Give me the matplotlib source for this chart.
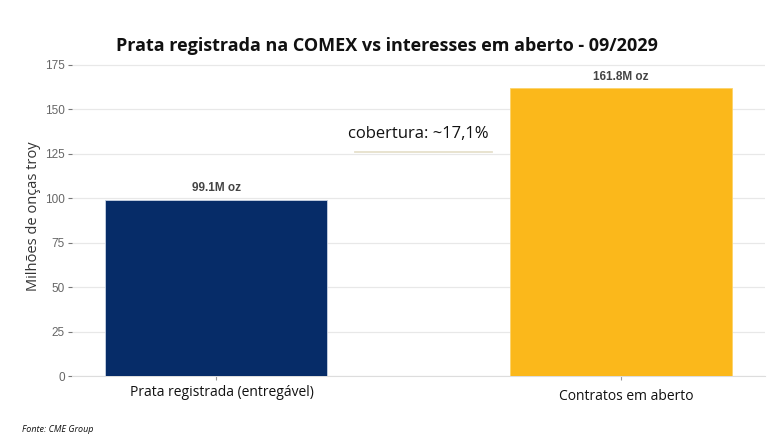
import matplotlib.pyplot as plt
import matplotlib.transforms as mtransforms
import numpy as np

# dados
categorias = ['Prata registrada (entregável)', 'Contratos em aberto']
valores = [99.1, 161.8]
rotulos = ['99.1M oz', '161.8M oz']
cores = ['#062C68', '#FBB81B']
cobertura = 'cobertura: ~17,1%'
yticks = [0, 25, 50, 75, 100, 125, 150, 175]

fig = plt.figure(figsize=(7.74, 4.43), dpi=100)
ax = fig.add_axes([0.093, 0.151, 0.895, 0.723])

x = np.arange(len(categorias))
bars = ax.bar(x, valores, width=0.548, color=cores, edgecolor=['#c9d4e4', '#fcd36a'],
              linewidth=0.6, zorder=3)

ax.set_xlim(-0.356, 1.356)
ax.set_ylim(0, 180)
ax.set_yticks(yticks)
ax.grid(True, axis='y', color='#e8e8e8', linewidth=0.9, zorder=0)
for s in ['top', 'right', 'left']:
    ax.spines[s].set_visible(False)
ax.spines['bottom'].set_color('#dddddd')
ax.tick_params(axis='y', length=3, color='#777777', labelcolor='#666666', labelsize=8.5, pad=2)
ax.tick_params(axis='x', length=3, color='#999999')
for t in ax.get_yticklabels():
    t.set_family('Liberation Sans')
ax.set_xticks(x)
ax.set_xticklabels(categorias, family='Open Sans', fontsize=10, color='#111111')
desloc = mtransforms.ScaledTranslation(0.055, 0, fig.dpi_scale_trans)
for t in ax.get_xticklabels():
    t.set_transform(t.get_transform() + desloc)
ax.get_xticklabels()[1].set_y(-0.012)

ax.set_ylabel('Milhões de onças troy', family='Open Sans', fontsize=10.5, color='#333333', labelpad=3)

for b, r in zip(bars, rotulos):
    ax.annotate(r, xy=(b.get_x() + b.get_width() / 2, b.get_height()), xytext=(0, 4),
                textcoords='offset points', ha='center', va='bottom',
                fontsize=8.5, fontweight='bold', color='#444444', family='Liberation Sans')

ax.text(0.5, 136, cobertura, ha='center', va='center', family='Open Sans', fontsize=12, color='#111111')
ax.plot([0.343, 0.683], [126.2, 126.2], color='#e6e0cc', linewidth=1.3, zorder=2)

fig.text(0.5, 0.896, 'Prata registrada na COMEX vs interesses em aberto - 09/2029',
         ha='center', va='center', family='Open Sans', fontweight='bold', fontsize=13, color='#111111')
fig.text(0.028, 0.03, 'Fonte: CME Group', ha='left', va='center', family='Open Sans',
         style='italic', fontsize=6.5, color='#111111')

plt.savefig('out.png', dpi=100)
